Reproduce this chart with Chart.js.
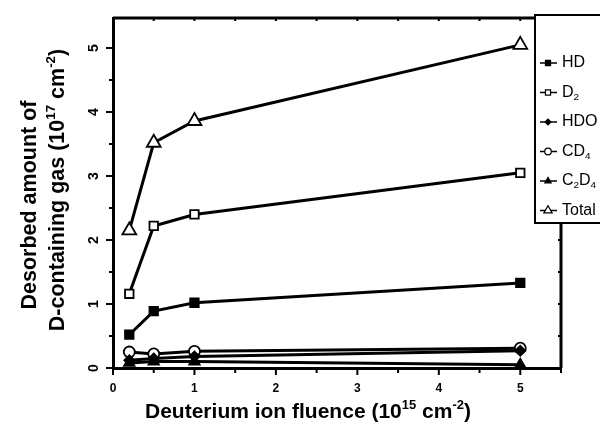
<!DOCTYPE html>
<html><head><meta charset="utf-8">
<script src="https://cdn.jsdelivr.net/npm/chart.js@4/dist/chart.umd.min.js"></script>
<style>html,body{margin:0;padding:0;background:#fff}canvas{display:block}</style>
</head><body>
<canvas id="c" width="600" height="430"></canvas>
<script>
const fluence = [0.2, 0.5, 1, 5];
const seriesNames = ["HD", "D2", "HDO", "CD4", "C2D4", "Total"];
const hdValues = [0.52, 0.89, 1.02, 1.33];
const d2Values = [1.16, 2.22, 2.40, 3.05];
const hdoValues = [0.12, 0.15, 0.18, 0.27];
const cd4Values = [0.25, 0.22, 0.26, 0.31];
const c2d4Values = [0.08, 0.10, 0.10, 0.05];
const totalValues = [2.15, 3.52, 3.86, 5.05];
const xTickLabels = ["0", "1", "2", "3", "4", "5"];
const yTickLabels = ["0", "1", "2", "3", "4", "5"];
const legendParts = {
  "HD": [["HD", false]],
  "D2": [["D", false], ["2", true]],
  "HDO": [["HDO", false]],
  "CD4": [["CD", false], ["4", true]],
  "C2D4": [["C", false], ["2", true], ["D", false], ["4", true]],
  "Total": [["Total", false]]
};

const styles = {
  "HD": {pointStyle: 'rect', fill: true, r: 6},
  "D2": {pointStyle: 'rect', fill: false, r: 6},
  "HDO": {pointStyle: 'rectRot', fill: true, r: 5},
  "CD4": {pointStyle: 'circle', fill: false, r: 5.5},
  "C2D4": {pointStyle: 'triangle', fill: true, r: 6},
  "Total": {pointStyle: 'triangle', fill: false, r: 8}
};
const valuesByName = {"HD": hdValues, "D2": d2Values, "HDO": hdoValues, "CD4": cd4Values, "C2D4": c2d4Values, "Total": totalValues};

const drawOrder = ["C2D4", "HDO", "CD4", "HD", "D2", "Total"];
const datasets = drawOrder.map(n => ({
  label: n,
  data: fluence.map((x, i) => ({x: x, y: valuesByName[n][i]})),
  borderColor: '#000',
  borderWidth: 3,
  pointStyle: styles[n].pointStyle,
  pointRadius: styles[n].r,
  pointHoverRadius: styles[n].r,
  pointBackgroundColor: styles[n].fill ? '#000' : '#fff',
  pointBorderColor: '#000',
  pointBorderWidth: 1.8,
  tension: 0,
  fill: false
}));

function drawRich(ctx, parts, x, y, size, bold, align) {
  const f = (s) => (bold ? 'bold ' : '') + s + 'px Arial, "Liberation Sans", sans-serif';
  let w = 0;
  parts.forEach(p => { ctx.font = f(p[1] ? size * 0.62 : size); w += ctx.measureText(p[0]).width; });
  let cx = align === 'center' ? x - w / 2 : x;
  parts.forEach(p => {
    const s = p[1] ? size * 0.62 : size;
    ctx.font = f(s);
    let dy = 0;
    if (p[1] === 'sup') dy = -size * 0.42;
    if (p[1] === 'sub') dy = size * 0.28;
    ctx.fillText(p[0], cx, y + dy);
    cx += ctx.measureText(p[0]).width;
  });
}

const decor = {
  id: 'decor',
  afterDraw(chart) {
    const ctx = chart.ctx;
    const xs = chart.scales.x, ys = chart.scales.y;
    const a = chart.chartArea;
    ctx.save();
    ctx.strokeStyle = '#000';
    ctx.fillStyle = '#000';
    ctx.lineWidth = 3;
    ctx.beginPath();
    ctx.moveTo(a.left, a.top); ctx.lineTo(a.right, a.top); ctx.lineTo(a.right, a.bottom);
    ctx.stroke();
    ctx.lineWidth = 2;
    for (let v = 0; v <= 5.5001; v += 0.5) {
      const px = xs.getPixelForValue(v);
      const major = Math.abs(v - Math.round(v)) < 1e-6;
      ctx.beginPath();
      ctx.moveTo(px, a.bottom); ctx.lineTo(px, a.bottom + (major ? 7 : 5));
      ctx.moveTo(px, a.top); ctx.lineTo(px, a.top + 3);
      ctx.stroke();
    }
    for (let v = 0; v <= 5.0001; v += 0.5) {
      const py = ys.getPixelForValue(v);
      const major = Math.abs(v - Math.round(v)) < 1e-6;
      ctx.beginPath();
      ctx.moveTo(a.left, py); ctx.lineTo(a.left - (major ? 7 : 4), py);
      ctx.moveTo(a.right, py); ctx.lineTo(a.right - 3, py);
      ctx.stroke();
    }
    ctx.font = 'bold 12px Arial, "Liberation Sans", sans-serif';
    ctx.textAlign = 'center'; ctx.textBaseline = 'middle';
    xTickLabels.forEach((t, i) => {
      ctx.fillText(t, xs.getPixelForValue(i), a.bottom + 21);
    });
    ctx.font = 'bold 14px Arial, "Liberation Sans", sans-serif';
    yTickLabels.forEach((t, i) => {
      ctx.save();
      ctx.translate(a.left - 19, ys.getPixelForValue(i));
      ctx.rotate(-Math.PI / 2);
      ctx.fillText(t, 0, 0);
      ctx.restore();
    });
    ctx.textAlign = 'left'; ctx.textBaseline = 'alphabetic';
    drawRich(ctx, [["Deuterium ion fluence (10", null], ["15", 'sup'], [" cm", null], ["-2", 'sup'], [")", null]], 308, 418, 21, true, 'center');
    ctx.save();
    ctx.translate(36, 205);
    ctx.rotate(-Math.PI / 2);
    drawRich(ctx, [["Desorbed amount of", null]], 0, 0, 21.5, true, 'center');
    drawRich(ctx, [["D-containing gas (10", null], ["17", 'sup'], [" cm", null], ["-2", 'sup'], [")", null]], 15, 28, 21.5, true, 'center');
    ctx.restore();
    const lx = 535, ly = 15, lw = 80, lh = 208;
    ctx.fillStyle = '#fff';
    ctx.fillRect(lx, ly, lw, lh);
    ctx.lineWidth = 2;
    ctx.strokeRect(lx, ly, lw, lh);
    ctx.fillStyle = '#000';
    seriesNames.forEach((n, i) => {
      const yy = 63 + i * 29.5;
      const ds = chart.data.datasets.find(d => d.label === n);
      ctx.lineWidth = 1.5;
      ctx.beginPath(); ctx.moveTo(540, yy); ctx.lineTo(557, yy); ctx.stroke();
      const r = ds.pointRadius * 0.6;
      ctx.save();
      ctx.fillStyle = ds.pointBackgroundColor;
      ctx.strokeStyle = '#000';
      ctx.lineWidth = 1.2;
      Chart.helpers.drawPoint(ctx, {pointStyle: ds.pointStyle, radius: r, borderWidth: 1.2, rotation: 0}, 548, yy);
      ctx.restore();
      ctx.fillStyle = '#000';
      ctx.textBaseline = 'middle';
      drawRich(ctx, legendParts[n].map(p => [p[0], p[1] ? 'sub' : null]), 562, yy, 16, false, 'left');
    });
    ctx.restore();
  }
};

new Chart(document.getElementById('c'), {
  type: 'line',
  data: {datasets: datasets},
  options: {
    responsive: false,
    animation: false,
    layout: {padding: {top: 18, right: 39, left: 0, bottom: 0}},
    plugins: {legend: {display: false}, tooltip: {enabled: false}},
    scales: {
      x: {
        type: 'linear', min: 0, max: 5.5,
        grid: {display: false},
        border: {display: true, color: '#000', width: 3},
        ticks: {display: false},
        afterFit: s => { s.height = 62; }
      },
      y: {
        type: 'linear', min: 0, max: 5.47,
        grid: {display: false},
        border: {display: true, color: '#000', width: 3},
        ticks: {display: false},
        afterFit: s => { s.width = 113; }
      }
    }
  },
  plugins: [decor]
});
</script>
</body></html>
